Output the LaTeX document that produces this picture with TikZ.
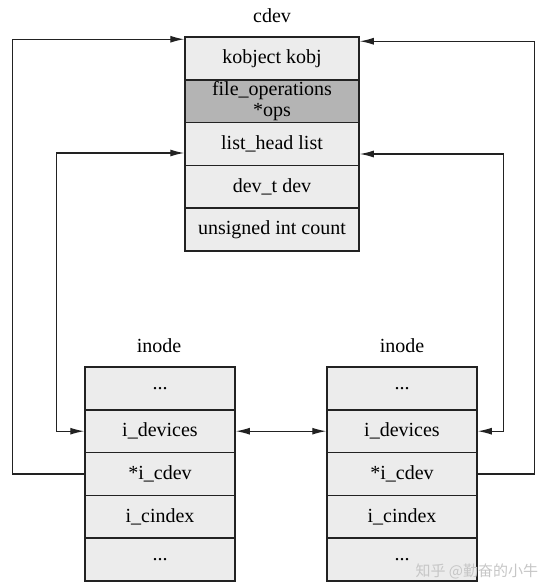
\documentclass[tikz,border=0pt]{standalone}
\usepackage{fontspec}
\setmainfont{Liberation Serif}
\newfontfamily\cjk{Noto Sans CJK SC}
\usetikzlibrary{arrows.meta,calc}
\definecolor{cellfill}{HTML}{ECECEC}
\definecolor{opsfill}{HTML}{B4B4B4}
\definecolor{linec}{HTML}{222222}
\begin{document}
\begin{tikzpicture}[x=1pt,y=-1pt,
  every node/.style={font=\fontsize{20}{21}\selectfont, text=black},
  cell/.style={draw=linec, line width=1.5pt, fill=cellfill, minimum height=42.8pt, inner sep=0pt},
  cdevcell/.style={cell, minimum width=174pt},
  inodecell/.style={cell, minimum width=150pt},
  conn/.style={draw=linec, line width=1.3pt},
  tip/.style={-{Latex[length=14pt,width=7pt]}},
  tips/.style={{Latex[length=14pt,width=7pt]}-{Latex[length=14pt,width=7pt]}}
]
\useasboundingbox (0,0) rectangle (550,587);

% cdev structure
\node (cdevlbl) at (272,16) {cdev};
\node[cdevcell] (c1) at (272,58.4) {kobject kobj};
\node[cdevcell, fill=opsfill, align=center] (c2) at (272,101.2) {file\_operations\\*ops};
\node[cdevcell] (c3) at (272,144) {list\_head list};
\node[cdevcell] (c4) at (272,186.8) {dev\_t dev};
\node[cdevcell] (c5) at (272,229.6) {unsigned int count};

% left inode
\node (llbl) at (159,346) {inode};
\node[inodecell] (l1) at (160,388.4) {...};
\node[inodecell] (l2) at (160,431.2) {i\_devices};
\node[inodecell] (l3) at (160,474) {*i\_cdev};
\node[inodecell] (l4) at (160,516.8) {i\_cindex};
\node[inodecell] (l5) at (160,559.6) {...};

% right inode
\node (rlbl) at (402,346) {inode};
\node[inodecell] (r1) at (402,388.4) {...};
\node[inodecell] (r2) at (402,431.2) {i\_devices};
\node[inodecell] (r3) at (402,474) {*i\_cdev};
\node[inodecell] (r4) at (402,516.8) {i\_cindex};
\node[inodecell] (r5) at (402,559.6) {...};

% connectors
\coordinate (ctl) at ($(c1.north west)+(0,3)$);
\coordinate (ctr) at ($(c1.north east)+(0,5)$);
\coordinate (cll) at ($(c3.west)+(0,9)$);
\coordinate (clr) at ($(c3.east)+(0,10)$);

\draw[conn,tip] (l3.west) -- ++(-72,0) |- (ctl);
\draw[conn,tip] (r3.east) -- ++(57,0) |- (ctr);
\draw[conn,tips] (cll) -- ++(-128,0) |- (l2.west);
\draw[conn,tips] (clr) -- ++(144,0) |- (r2.east);
\draw[conn,tips] (l2.east) -- (r2.west);

% watermark
\node[font=\cjk\fontsize{15}{16}\selectfont, text=gray!45, anchor=west] (wm) at (412,571) {知乎 @勤奋的小牛};
\end{tikzpicture}
\end{document}
